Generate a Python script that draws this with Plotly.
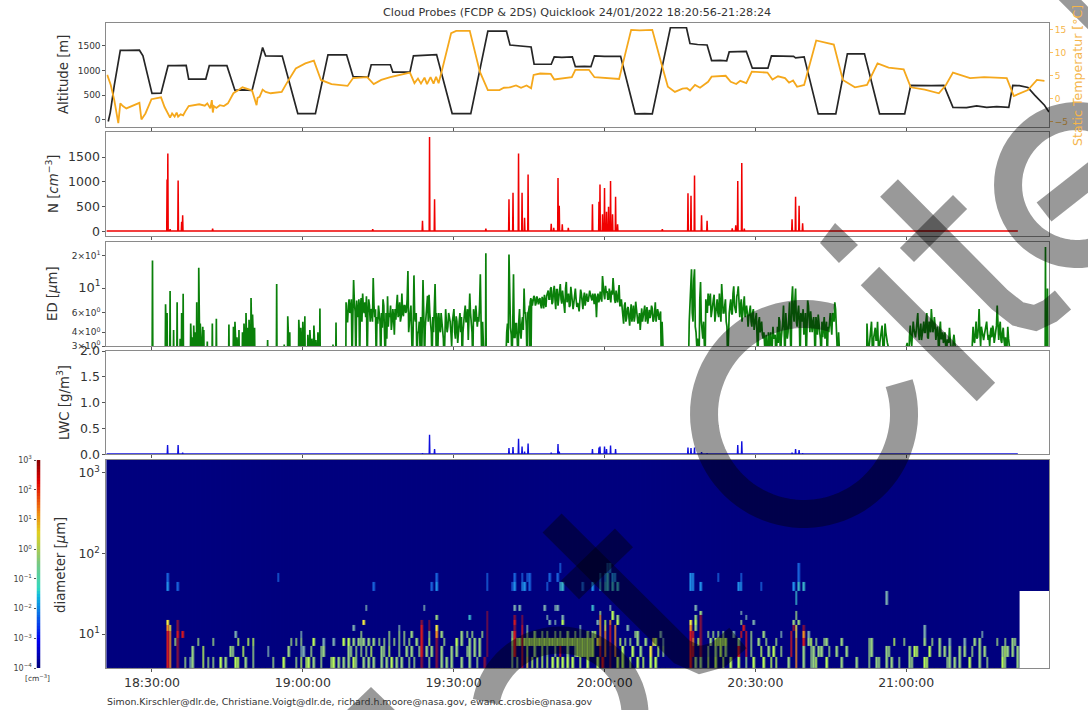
import math
import plotly.graph_objects as go
import pandas as pd

W, H = 1088, 710
BASE = pd.Timestamp("2022-01-24 18:00:00")
T_START = "2022-01-24 18:20:56"
T_END = "2022-01-24 21:28:24"

def when(minutes):
    return [BASE + pd.Timedelta(minutes=float(m)) for m in minutes]

# ---- minutes after 18:00 / altitude in metres
alt_pts = [(21.3,-30),(21.7,150),(22.5,700),(23.7,1410),(25,1412),(27.5,1415),(28.2,1300),(30.0,540),(31.8,545),(32.4,800),(33.2,1100),(34.5,1100),(36.8,1105),(37.3,830),(39,835),(40.7,830),(41.4,1100),(43,1105),(44.9,1100),(46.5,600),(48,610),(49.9,600),(51,1050),(52,1470),(52.6,1300),(54,1300),(55.9,1295),(59,130),(60.5,135),(62.5,130),(65,1320),(67,1325),(68.7,1320),(70,880),(71.5,870),(73,870),(73.6,1120),(75.5,1125),(77.4,1120),(77.9,970),(79.5,975),(81.3,970),(82,1300),(84,1305),(86.6,1325),(89.7,130),(91.5,125),(93.4,130),(96.8,1800),(98.5,1805),(100.5,1800),(101.2,1520),(103,1505),(105.4,1480),(106,1130),(107.5,1125),(109.4,1130),(110,1280),(111.5,1270),(113.6,1280),(114.2,1080),(116,1085),(117.3,1080),(118,1300),(120,1290),(123.2,1290),(126.1,125),(128,130),(129.5,125),(133.1,1870),(135,1875),(136.3,1870),(137,1550),(138.5,1530),(140.4,1520),(141.3,1205),(143,1210),(144.3,1200),(144.8,1380),(146.5,1390),(148.2,1390),(149.4,1050),(151,1045),(152.5,1050),(153.2,1300),(155,1295),(157.6,1290),(158,1260),(159.7,1280),(162.5,125),(164,130),(166,125),(168.3,1340),(170,1345),(171.7,1340),(174.7,125),(177,130),(179.7,125),(180.9,700),(183,705),(185,695),(187.5,700),(189.3,255),(192,250),(194,285),(196,255),(198,270),(200.4,255),(201.2,700),(202.5,695),(204.2,660),(205.6,500),(206.6,400),(207.5,300),(208.4,160)]

# ---- minutes after 18:00 / static temperature in deg C
tmp_pts = [(21.1,5.2),(21.8,3.0),(22.5,-0.3),(23.3,-5.3),(23.7,-1.0),(24.2,-1.6),(24.9,-2.1),(26,-1.6),(27.5,-0.9),(27.9,-4.5),(28.7,-3.2),(29.9,-0.1),(31.8,0.3),(32.5,-1.8),(33.6,-4.1),(34,-3.2),(34.5,-3.9),(34.9,-3.0),(35.2,-3.9),(35.7,-3.4),(36.2,-3.6),(36.6,-2.8),(37.3,-1.6),(39.4,-1.2),(40.5,-1.5),(41.0,-1.0),(41.6,-2.1),(41.9,-0.3),(42.1,-3.0),(42.3,-1.6),(42.8,-2.0),(43.5,-1.4),(44.3,-1.6),(45.1,-1.0),(46.2,1.2),(47.2,1.9),(48,2.5),(49.9,1.8),(50.8,-1.4),(51,0.2),(51.4,0.4),(52,2.0),(52.6,1.5),(53.6,1.2),(55.8,1.5),(56.8,3.4),(58.6,6.6),(60.5,7.7),(62.2,8.3),(63.6,4.1),(65.7,3.2),(68.9,2.8),(70,4.5),(72.8,4.7),(74.1,3.2),(75.6,4.1),(77.4,4.7),(81.3,5.7),(82.2,3.4),(82.9,4.4),(83.5,3.3),(84.2,4.6),(84.7,3.2),(85.4,4.7),(86,3.3),(86.5,4.8),(87,3.4),(87.7,6.3),(89.5,14.3),(90.5,14.8),(93.2,14.8),(95.2,5.9),(96.8,1.9),(99.1,1.9),(100,2.4),(101.2,2.5),(102.4,2.9),(103.4,2.4),(104.5,2.9),(105.4,2.3),(105.9,5.2),(107.2,5.5),(109.3,5.4),(110,4.2),(113.5,4.7),(114.2,6.3),(116.9,6.3),(118,4.7),(122.9,4.3),(123.5,7),(125.3,15),(127,14.9),(129.5,15),(131.2,8.1),(132.6,2.6),(134,1.5),(135.5,2.2),(136.4,2.3),(137,1.8),(138,3),(139,2.4),(140.6,3.7),(141.3,4.8),(144.1,5),(145.1,3.7),(146.2,3.2),(147,3.9),(148.2,3.4),(149.3,5.9),(152.4,5.7),(153.4,4.2),(154.5,4.9),(155.9,4.5),(156.7,3.5),(157.5,4.0),(158.3,2.6),(159.7,3),(162.1,12.7),(165.6,11.8),(167.4,4.1),(169.8,2.5),(172.2,3),(174.3,7.7),(176.5,6.8),(179.5,6.4),(180.9,2.5),(183.7,2),(186.5,1.2),(187.9,3),(189.3,5.7),(192.7,4.5),(195.5,4.7),(200,4.5),(201.4,0.6),(204.2,1.9),(206,4.1),(207.5,3.9)]
alt_min = [p[0] for p in alt_pts]
alt_m = [p[1] for p in alt_pts]
tmp_min = [p[0] for p in tmp_pts]
tmp_c = [p[1] for p in tmp_pts]

# ---- spike lists: minutes, N, and LWC
n_min = [33.0,33.15,33.6,35.2,35.9,36.1,42.06,73.9,83.8,85.2,86.2,96.4,101,101.8,102.9,103.6,104.1,104.8,109.4,109.9,110.75,111,111.6,112.8,117.6,118.9,119.1,119.6,120,120.4,120.8,121.2,121.6,122.2,122.6,131.5,136.6,137.2,137.9,139.3,140.4,145.4,146.1,146.5,147.3,147.8,157.3,158,158.7,159.4]
n_val = [1050,1570,50,1030,200,330,60,50,220,1900,650,60,650,780,1570,780,280,1150,160,80,1080,520,150,80,550,600,950,350,880,400,500,1020,350,700,150,50,770,720,1130,330,220,70,130,1020,1380,60,250,700,520,170]
lwc_min = [33.1,35.2,36.1,83.8,85.2,86.2,96.4,101,101.8,102.9,103.6,104.1,104.8,109.4,110.75,111,117.6,118.9,119.1,120,120.4,121.2,122.2,136.6,137.2,137.9,139.3,140.4,146.5,147.3,157.3,158,158.7,159.4]
lwc_val = [0.18,0.18,0.03,0.02,0.38,0.1,0.01,0.12,0.14,0.3,0.15,0.05,0.21,0.03,0.2,0.05,0.1,0.13,0.15,0.15,0.1,0.17,0.1,0.13,0.12,0.13,0.04,0.02,0.18,0.25,0.03,0.1,0.08,0.02]

# ---- effective diameter: isolated spikes (2 = under the axis floor)
ed_spike_min = [30.1,32.7,33,33.6,34.3,35,35.6,35.9,36.2,37.7,38,38.3,38.6,38.9,39.3,39.6,40.1,40.3,41,42,42.8,45.3,46.2,46.5,46.9,47.3,48,48.3,48.7,49,49.3,49.7,50,50.4,53,54.8,56.3,57,57.4,59.2,59.6,60,60.4,61,61.4,61.8,62.2,62.6,63,63.4,66,66.6,96.4,207.7,208.1]
ed_spike_val = [18,7.2,6,9.5,4.2,7.5,3.5,6,9,4.8,3.6,4.6,4,7.5,15.5,4.8,4.5,4.2,3.3,4.8,5.3,4.7,4.5,5,3.6,4.2,4,4.8,6,4.4,5.2,8.2,5.8,4.4,3.4,11,3.1,5.6,4,5.2,4.4,5,5.6,3.8,4.2,3.5,4.6,3.4,4,6.6,3.1,4.9,21,24,10]
# ---- effective diameter: dense stretches, one value every 0.3 minutes, with a second pass in between
ed_a_start, ed_a = 68.6, [7.5,5,8,6.5,2,12,6.2,7.8,5.5,2,8.2,9,6,5.5,2,8,5,6.3,12.5,5.5,2,4.8,6,2,4.4,7,2,3.5,4.5,5.5,4.2,6.5,3.8,5.2,8.8,6,5,9,5.6,7,6.2,14.5,5.8,7,2,13.2,5,2,4,3,2,12,2,6,8.6,8.8,5,2,4,11]
ed_a2 = [5,7,6,8,5.5,7.5,2,6,8,7,5,6.5,7.5,8.5,6,7,6.5,5,7,6.5,5.5,7,5,6,8,5,6,8.5,6,7,5,5.5,6.5,7,5.5,7.5,5.5,6,7,6,8,4,6,5,4.5,5.5,6,4,5,5.5,4.5,6,4.5,7,5,6,4,5.5,7,5]
ed_b_start, ed_b = 86.6, [6,5,4.5,6,5,2,6.5,4,6,5,3,5.5,4,5.6,3.2,5,4,2,5.5,7,5,3.4,9,5,2,5.4,7,4.5,5,13.5,2]
ed_b2 = [5,6,4,5,3.5,6,5,4.5,5.5,4,5,6.5,3.5,5,4.5,6,5.5,4,6,5,6.5,5,6,4,6.5,5,6,5.5,7,5,5]
ed_c_start, ed_c = 100.4, [3.5,4.8,20.5,4.4,2,13.5,3.6,4.8,2,6.5,3.5,5.5,10,6,2,6.2]
ed_c2 = [4,3.2,5,3.8,4.6,3.6,4.8,3.4,5,4,4.8,4.2,6,4.5,6,7]
ed_d_start, ed_d = 105.2, [7.5,8,7.6,8.3,7.4,8,7.8,7.2,8.4,6.6,7.5,8.6,9.6,8,10.3,7.5,10.6,6.5,9.8,8.2,11,7.3,8.4,6,11.5,8.5,6.8,10.4,8,7.4,10,6.8,7,8.4,9,6.5,9.2,8.4,7.8,8.5,8.8,7.8,8.4,9,5.5,9,8,8.6,13,8.8,10.6,9.5,8,7.8,9.6,12.5,8,9.6,7.5,10.8,7,6.4,4.8,7.5,5.4,6.8,4.6,7.2,6,5,7.6,6.2,5.2,4.2,6.6,5.6,7,5.8,4.8,6.4,5.8,6.6,5.2,7.5,5.8,6,5.6,2]
ed_d2 = [8.2,7,8.6,7,8.5,7.2,8.2,6.6,7.8,8.8,6.8,9,8,10,7.2,9.4,8,9.8,7,10.5,8,9.6,6.8,10,7.5,9,7,8.5,6.5,9.5,8,7.4,6.2,9.8,7.2,8.2,7,9,7.6,9.6,8,9,7.2,8,8.4,7.5,9.4,7.6,9.5,8,9.2,8,10,7.5,8.8,9,7.4,8.2,9,7,8,5.5,7,5,6.6,5.5,6,5,7,5.6,6.4,4.8,6,5.5,5,6,5,6.8,6,5.4,7,5,6,5,6.5,5.2,6.2,5]
ed_e_start, ed_e = 136.7, [2,7,15,5,15,4,3.5,2,11.5,4,5,2,7,9,8,5.5,7,8.8,6,8,5.5,7,11,6,7.5,5,2,6,8,5.8,10.5,6,8.5,10.5,5.5,8,6,8.5,7,6,5.5,7,4.5,6.5,5,6,2,5.5,4.5,3.8,4,3.2,2,4,3.5,2,4.5,3.6,2,4.5,5.5,2,4,7,2,5,4,7.5,2,10.5,5,10,4.5,7,2,5.5,6.5,4.5,2,7.8,5,6.2,4,5.5,2,4.5,5.8,4.2,2,3.6,5.5,4.8,2,4,6,3.8,5.5,7.5,4.5,2]
ed_e2 = [5,9,6,12,4.5,3,2.5,8,5,3.5,4,8,6,7,9,6,8,5,7,6,9,5,7,6,8,4.5,5,7,6,9,7,6,9,6,7,5,7,5.5,7,4.5,6.5,5,6,4.2,5,3.5,5,4,5,3.5,3,3.8,3.2,3,4,3,3.5,3.8,4,3.2,5,3.5,5,4,6,3.5,6,4,8,6,7.5,5,6,5,6,5,3.8,6,4.5,7,4,5,5,4,5.5,3.8,5,3.4,5,4.5,3.5,5,4.5,5,4.6,6,5,6.5,3,4]
ed_f_start, ed_f = 172.2, [4.8,2,3.5,5,2,4.4,3.4,5,2,3.6,4.6,2,4.8,3.4,3,2]
ed_f2 = [3.3,3,4.2,3,3.6,4.4,3.4,4,3.2,4,3.2,3.4,4,3.2,2.5,2]
ed_g_start, ed_g = 179.9, [2,3.2,2,4.6,3,5,3.6,4.2,6,3.4,4.8,3.8,5,4,6,3.5,4.6,6.5,4,5.5,3.4,4.5,2,5,3.5,3.2,4,2,3.4,4.4,3.1,2,3.8,3]
ed_g2 = [3,2.5,3.6,3.4,4,4.2,3.6,5,4,4.2,3.4,4.6,4,5.2,3.6,5,4,5,4.4,4.6,4,3.6,4.2,3.5,4,3.4,3,3.4,3.2,3.5,3,3.4,3.2,2.5]
ed_h_start, ed_h = 193.0, [2,4.5,3.2,5,3.6,6.5,3,4,3.4,4.2,5,3.4,3,4.4,4.6,3.2,4,7,3.4,5,3.2,4.4,3,2,4.5,3.2]
ed_h2 = [3.2,3.4,4,3.5,4.4,4,4.5,3.5,3.8,4.8,4,3.8,4,3.6,4.2,3.6,4.6,4.2,4.4,3.4,4,3.4,3.6,3,3.5,3]

# ---- size-distribution: bin edges (um) and non-empty cells "timebin:level" per size row
size_edges = [3.8,5.2,7.1,8.9,10.9,12.9,14.9,17.2,19.3,22.9,34,44,57,76,1440]
level_log10 = {"1":-2.6,"2":-2.0,"3":-1.4,"4":-0.9,"5":-0.4,"6":0.2,"7":0.9,"8":1.6,"9":2.2,"d":2.8}
TIME_BINS, WHITE_FROM, WHITE_ROWS = 375, 363, 10
rows = [
"24:9 25:8 28:d 31:5 33:4 34:5 38:6 40:5 42:5 45:6 47:5 51:6 52:6 55:5 58:5 66:5 70:6 75:5 77:6 79:6 80:6 82:5 85:5 89:6 90:6 92:5 94:5 96:5 98:6 99:5 102:5 104:5 106:5 109:5 111:5 113:6 115:5 117:5 120:5 122:5 125:d 128:5 131:d 133:5 135:5 137:5 141:5 144:5 147:5 150:d 161:5 163:5 165:9 167:7 169:6 171:6 173:6 175:6 177:6 179:6 181:6 183:6 185:6 188:6 191:6 195:6 197:9 200:d 203:6 205:6 208:6 211:6 213:6 216:6 218:6 232:9 234:5 236:5 239:6 242:6 245:6 248:6 251:6 254:5 257:6 261:6 264:6 266:6 271:5 274:8 277:5 280:5 281:5 282:6 286:6 292:5 298:5 303:5 306:5 307:5 310:5 312:5 315:5 319:5 320:5 325:6 326:6 334:5 335:5 337:5 339:5 343:6 347:5 350:5 356:6 357:5 362:5",
"24:9 25:8 28:d 34:5 38:6 49:5 50:5 54:6 58:5 64:4 72:5 77:4 78:4 81:5 85:5 86:5 96:5 97:5 99:5 101:5 103:5 105:6 109:5 110:5 112:6 116:5 119:5 121:5 124:5 125:9 127:5 129:5 131:d 133:5 137:5 139:5 143:5 144:5 146:5 148:5 151:d 161:5 162:9 165:9 167:6 170:5 173:6 175:5 178:5 180:9 183:5 186:5 187:6 188:6 189:6 190:6 191:6 192:6 193:6 196:9 198:8 200:d 202:8 205:6 209:6 212:5 216:7 219:6 221:5 232:9 233:9 236:d 239:5 242:5 244:6 246:5 251:9 254:9 256:5 260:6 263:5 265:6 268:5 272:9 274:8 277:5 280:5 281:5 283:5 284:5 287:5 290:5 294:5 303:5 304:5 310:5 311:5 319:5 321:6 322:6 327:6 331:5 333:5 335:5 339:5 341:5 344:5 347:5 349:5 356:5 357:6 358:5 360:5 362:5",
"161-193:6 24:9 25:8 27:5 28:d 36:5 42:5 52:6 56:6 58:6 73:5 75:5 77:5 82:6 86:4 90:4 94:6 96:6 98:5 100:5 101:5 102:5 104:5 106:5 108:5 110:5 112:5 114:5 116:5 118:5 120:5 123:5 125:9 128:6 131:d 134:5 139:6 141:5 144:5 146:5 148:5 151:d 162:9 165:9 195:7 196:8 198:8 200:9 202:8 204:6 206:5 208:5 211:5 214:5 217:7 218:6 221:4 232:9 233:8 235:6 236:d 240:5 242:6 243:6 244:6 245:6 246:6 251:5 254:9 256:5 259:5 262:5 266:5 272:9 274:8 277:9 279:5 280:6 282:5 285:5 286:5 292:5 303:5 304:5 313:6 317:5 325:5 328:5 331:5 335:4 341:4 345:5 347:5 354:5 357:5 360:5 361:5",
"24:9 25:8 28:9 30:9 51:4 77:4 101:5 112:5 116:5 118:5 121:5 125:9 128:5 131:8 133:5 141:5 143:5 145:5 149:5 151:d 161:5 162:9 165:9 167:5 170:5 173:5 175:5 178:5 180:5 183:5 186:5 188:4 191:5 193:5 194:6 196:8 198:8 200:9 202:8 210:5 211:5 220:4 232:9 233:9 236:d 239:5 241:5 243:5 245:5 249:4 252:9 254:9 256:5 261:5 268:4 272:9 274:7 277:8 279:4 325:4 348:4",
"24:8 25:7 28:d 98:4 116:4 125:9 128:d 131:7 151:d 162:d 165:9 167:4 188:4 196:8 198:7 200:9 202:8 207:4 232:8 234:5 236:d 253:9 273:d 274:7 277:d 325:4",
"24:7 28:d 102:7 125:d 128:d 151:d 162:9 165:d 176:4 178:4 181:6 195:4 196:8 198:6 200:8 203:6 232:7 234:6 236:d 252:5 257:4 273:5 275:5",
"131:5 144:3 151:d 162:d 165:d 175:4 181:4 196:8 201:6 203:5 234:5 236:d 254:4 274:5",
"151:d 196:5 201:6 236:5 252:4 274:5",
"103:4 126:4 162:4 164:4 174:4 178:4 179:4 193:3 200:4 234:4",
"274:3 310:4",
"24:2 28:1 106:1 129:1 131:2 151:1 161:1 162:2 165:2 166:2 168:1 175:1 180:3 181:3 189:1 193:2 196:3 198:3 199:3 201:3 203:3 232:2 233:2 236:2 251:2 252:2 260:1 273:2 275:3 277:3",
"24:1 68:1 131:1 151:1 162:1 165:1 167:1 168:1 176:1 179:1 196:2 198:2 199:3 201:2 202:2 232:2 233:2 243:1 252:1 275:1",
"180:1 199:1 200:2 275:1",
"",
]
# colour-bar ramp: log10 concentration from 1e-4 to 1e3
cbar_levels = [-4+0.1*i for i in range(71)]
jet = [[0,"#00007f"],[0.11,"#0000e8"],[0.125,"#0000f0"],[0.34,"#10b8e0"],[0.375,"#30d8c0"],[0.5,"#7cc880"],[0.64,"#e0d020"],[0.75,"#f08010"],[0.89,"#e00000"],[1,"#7f0000"]]
# softer version of the same ramp for the narrow columns of the image
soft = [[0,"#00007f"],[0.11,"#0000e0"],[0.2,"#1860d8"],[0.29,"#2090e8"],[0.37,"#38b0c8"],[0.44,"#78a8b0"],[0.5,"#90c888"],[0.6,"#b8f85a"],[0.7,"#f2ea40"],[0.8,"#f08a20"],[0.886,"#d01820"],[0.97,"#7c1040"],[1,"#7c1040"]]

def build_z(empty=False):
    z = [[-4.0]*TIME_BINS for _ in rows]
    for r, spec in enumerate(rows):
        if not empty:
            for item in spec.split():
                where, lvl = item.split(":")
                lo, hi = where.split("-") if "-" in where else (where, where)
                for b in range(int(lo), int(hi)+1):
                    z[r][b] = level_log10[lvl]
        if r < WHITE_ROWS:
            for b in range(WHITE_FROM, TIME_BINS):
                z[r][b] = None
    return z

def spikes(ts, vs, floor):
    x, y = [], []
    for t, v in zip(ts, vs):
        x += [t-0.07, t, t+0.07]
        y += [floor, v, floor]
    return x, y

# assemble ED line in time order
ed_pairs = [(t-0.07, 2) for t in ed_spike_min] + [(t, v) for t, v in zip(ed_spike_min, ed_spike_val)] + [(t+0.07, 2) for t in ed_spike_min]
for st, vals, extra in [(ed_a_start,ed_a,ed_a2),(ed_b_start,ed_b,ed_b2),(ed_c_start,ed_c,ed_c2),(ed_d_start,ed_d,ed_d2),(ed_e_start,ed_e,ed_e2),(ed_f_start,ed_f,ed_f2),(ed_g_start,ed_g,ed_g2),(ed_h_start,ed_h,ed_h2)]:
    ed_pairs += [(st+0.3*i, v) for i, v in enumerate(vals)]
    ed_pairs += [(st+0.15+0.3*i, v) for i, v in enumerate(extra)]
    ed_pairs += [(st-0.05, 2), (st+0.3*len(vals)+0.16, 2)]
ed_pairs.sort()
ed_x = [p[0] for p in ed_pairs]
ed_y = [p[1] for p in ed_pairs]

nx, ny = spikes(n_min, n_val, 15)
nx = [20.93] + nx + [202.2]
ny = [15] + ny + [15]
lx, ly = spikes(lwc_min, lwc_val, 0.005)
lx = [20.93] + lx + [202.2]
ly = [0.005] + ly + [0.005]

fig = go.Figure()
fig.add_trace(go.Scatter(x=when(alt_min), y=alt_m, mode="lines", line=dict(color="#262626", width=1.7), xaxis="x", yaxis="y", showlegend=False))
fig.add_trace(go.Scatter(x=when(tmp_min), y=tmp_c, mode="lines", line=dict(color="#f5a81c", width=1.8), xaxis="x", yaxis="y6", showlegend=False))
fig.add_trace(go.Scatter(x=when(nx), y=ny, mode="lines", line=dict(color="#f00000", width=1.5), xaxis="x2", yaxis="y2", showlegend=False))
fig.add_trace(go.Scatter(x=when(ed_x), y=ed_y, mode="lines", line=dict(color="#0a800a", width=1.7), xaxis="x3", yaxis="y3", showlegend=False))
fig.add_trace(go.Scatter(x=when(lx), y=ly, mode="lines", line=dict(color="#1010dd", width=1.4), xaxis="x4", yaxis="y4", showlegend=False))
heat_x = when([20.93+0.5*i for i in range(TIME_BINS+1)])
fig.add_trace(go.Heatmap(x=heat_x, y=size_edges, z=build_z(empty=True), zmin=-4, zmax=3, colorscale=soft, showscale=False,
                         hoverongaps=False, xaxis="x5", yaxis="y5"))
fig.add_trace(go.Heatmap(x=heat_x, y=size_edges, z=build_z(), zmin=-4, zmax=3, colorscale=soft, showscale=False, xgap=0.4,
                         hoverongaps=False, xaxis="x5", yaxis="y5"))
fig.add_trace(go.Heatmap(x=[0, 1], y=[10**v for v in cbar_levels], z=[[v] for v in cbar_levels[:-1]], zmin=-4, zmax=3,
                         colorscale=jet, showscale=False, xaxis="x7", yaxis="y7"))

def dom(y0, y1):
    return [1-y1/H, 1-y0/H]

XDOM = [106.4/W, 1049/W]
BORDER = "#8a8a8a"
def xax(anchor, labels=False):
    return dict(domain=XDOM, anchor=anchor, type="date", range=[T_START, T_END], dtick=1800000,
                tick0="2022-01-24 18:30:00", tickformat="%H:%M:%S", showgrid=False, zeroline=False,
                showline=True, linecolor=BORDER, linewidth=1, mirror=True, ticks="outside", ticklen=3,
                tickcolor="#555555", showticklabels=labels, tickfont=dict(family="DejaVu Sans", size=12.5, color="#333333"))
def yax(anchor, y0, y1, size, **kw):
    d = dict(domain=dom(y0, y1), anchor=anchor, showgrid=False, zeroline=False, showline=True, linecolor=BORDER,
             linewidth=1, mirror=True, ticks="outside", ticklen=3, tickcolor="#555555",
             tickfont=dict(family="DejaVu Sans", size=size, color="#333333"))
    d.update(kw)
    return d

P = [(23,127),(132,236),(242,346),(351,454.3),(460,668)]
big = '<span style="font-size:13px">10<sup>1</sup></span>'
layout = dict(
    width=W, height=H, margin=dict(l=0, r=0, t=0, b=0, autoexpand=False), autosize=False,
    paper_bgcolor="white", plot_bgcolor="white", showlegend=False,
    xaxis=xax("y"), xaxis2=xax("y2"), xaxis3=xax("y3"), xaxis4=xax("y4"), xaxis5=xax("y5", labels=True),
    yaxis=yax("x", *P[0], 9, range=[-142, 1966], tickvals=[0,500,1000,1500]),
    yaxis2=yax("x2", *P[1], 12.5, range=[-86, 2002], tickvals=[0,500,1000,1500]),
    yaxis3=yax("x3", *P[2], 9, type="log", range=[math.log10(3.0), math.log10(26.6)], tickvals=[3,4,6,10,20],
               ticktext=["3×10<sup>0</sup>","4×10<sup>0</sup>","6×10<sup>0</sup>",big,"2×10<sup>1</sup>"]),
    yaxis4=yax("x4", *P[3], 12.5, range=[0, 2], tickvals=[0,0.5,1,1.5,2], ticktext=["0.0","0.5","1.0","1.5","2.0"]),
    yaxis5=yax("x5", *P[4], 12.5, type="log", range=[math.log10(3.8), math.log10(1436)], tickvals=[10,100,1000],
               ticktext=["10<sup>1</sup>","10<sup>2</sup>","10<sup>3</sup>"]),
    yaxis6=dict(domain=dom(*P[0]), anchor="x", overlaying="y", side="right", range=[-6.15, 16.5], tickvals=[-5,0,5,10,15],
                showgrid=False, zeroline=False, ticks="outside", ticklen=3, tickcolor="#ffc060",
                tickfont=dict(family="DejaVu Sans", size=9, color="#f5b54a")),
    xaxis7=dict(domain=[36.5/W, 40.5/W], anchor="y7", range=[0, 1], visible=False),
    yaxis7=dict(domain=dom(460, 668), anchor="x7", type="log", range=[-4, 3], side="left", showgrid=False, zeroline=False,
                tickvals=[1e-4,1e-3,1e-2,1e-1,1,10,100,1000], ticks="outside", ticklen=2, tickcolor="#555555",
                ticktext=["10<sup>−4</sup>","10<sup>−3</sup>","10<sup>−2</sup>","10<sup>−1</sup>","10<sup>0</sup>","10<sup>1</sup>","10<sup>2</sup>","10<sup>3</sup>"],
                tickfont=dict(family="DejaVu Sans", size=8, color="#444444")),
)

def note(x, y, text, size, color="#333333", angle=0, anchor="center"):
    return dict(x=x/W, y=1-y/H, xref="paper", yref="paper", text=text, showarrow=False, textangle=angle,
                xanchor=anchor, yanchor="middle", font=dict(family="DejaVu Sans", size=size, color=color))

layout["annotations"] = [
    note(577, 13, "Cloud Probes (FCDP &amp; 2DS) Quicklook 24/01/2022 18:20:56-21:28:24", 11.2),
    note(64, 74, "Altitude [m]", 13.3, angle=-90),
    note(52, 184, "N [<i>cm</i><sup>−3</sup>]", 13.3, angle=-90),
    note(52, 294, "ED [<i>µ</i>m]", 13.3, angle=-90),
    note(63, 403, "LWC [g/m<sup>3</sup>]", 13.3, angle=-90),
    note(60, 565, "diameter [<i>µ</i>m]", 13.3, angle=-90),
    note(1078, 76, "Static Temperatur [°C]", 12.6, color="#f5b54a", angle=-90),
    note(37, 678, "[cm<sup>−3</sup>]", 7.5),
    note(105, 701, "Simon.Kirschler@dlr.de, Christiane.Voigt@dlr.de, richard.h.moore@nasa.gov, ewan.c.crosbie@nasa.gov", 9.4, anchor="left"),
]

# ---- grey diagonal watermark strokes across the page (pixel positions)
def pt(x, y):
    return f"{x/W:.4f},{1-y/H:.4f}"
def poly(points, close=False):
    s = "M" + " L".join(pt(x, y) for x, y in points)
    return s + (" Z" if close else "")
def arc(cx, cy, r, a0, a1, n=48):
    return [(cx+r*math.cos(math.radians(a0+(a1-a0)*i/n)), cy+r*math.sin(math.radians(a0+(a1-a0)*i/n))) for i in range(n+1)]
INK = "rgba(0,0,0,0.40)"
def stroke(points, width):
    return dict(type="path", xref="paper", yref="paper", path=poly(points), line=dict(color=INK, width=width), layer="above")
def fill(points):
    return dict(type="path", xref="paper", yref="paper", path=poly(points, True), line=dict(width=0), fillcolor=INK, layer="above")

layout["shapes"] = [
    stroke(arc(804, 414, 100, -74, -378, 80), 28),
    stroke([(870,276),(986,392)], 26),
    fill([(835,223),(820,243),(839,263),(858,245)]),
    stroke([(889,188),(1000,300),(1018,314),(1035,318),(1050,311),(1063,300)], 25),
    stroke([(960,202),(907,255)], 20),
    stroke(arc(1077,185,69,70,290,40), 28),
    stroke([(1044,212),(1100,168)], 24),
    stroke([(1060,-10),(1095,25)], 16),
    stroke([(552,523),(682,652),(700,660),(718,655),(738,638)], 27),
    stroke([(624,538),(570,590)], 26),
    stroke(arc(560,715,75,190,360,40), 27),
    fill([(371,687),(345,712),(397,712)]),
]

fig.update_layout(**layout)
fig.write_html("out.html", config={"displayModeBar": False}, post_script="document.body.style.margin='0';document.body.style.overflow='hidden';")
